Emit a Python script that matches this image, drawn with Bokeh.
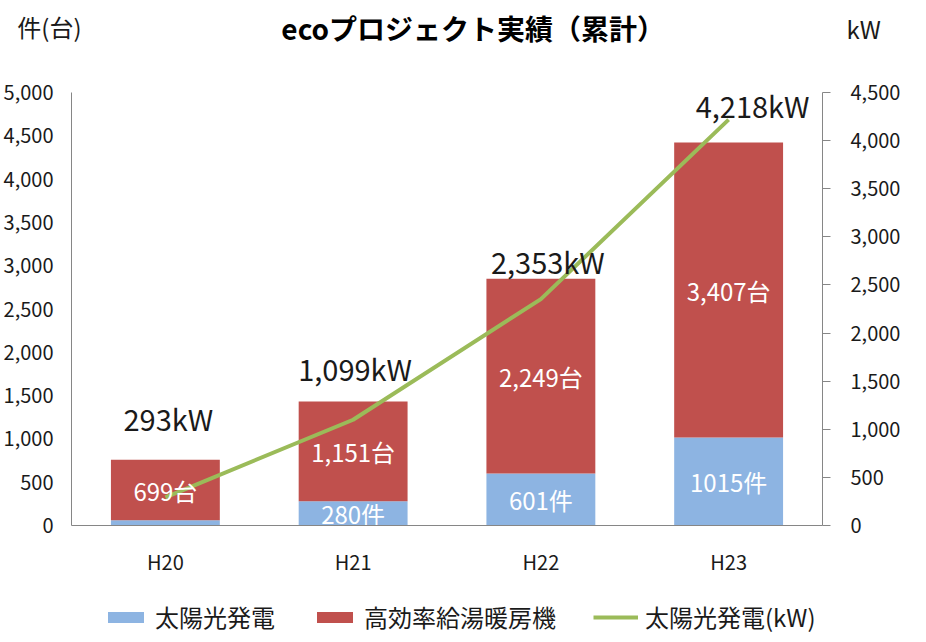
from bokeh.plotting import figure
from bokeh.layouts import column
from bokeh.models import (Range1d, LinearAxis, SingleIntervalTicker, NumeralTickFormatter,
                          FixedTicker, Legend, LegendItem, Label, ColumnDataSource,
                          FactorRange)
from bokeh.core.properties import value
from bokeh.embed import file_html
from bokeh.resources import INLINE

# ---- data ----
categories = ["H20", "H21", "H22", "H23"]
solar_count = [60, 280, 601, 1015]          # 太陽光発電 (件)
heater_count = [699, 1151, 2249, 3407]      # 高効率給湯暖房機 (台)
solar_kw = [293, 1099, 2353, 4218]          # 太陽光発電 (kW)
solar_count_labels = ["", "280件", "601件", "1015件"]
heater_count_labels = ["699台", "1,151台", "2,249台", "3,407台"]
kw_labels = ["293kW", "1,099kW", "2,353kW", "4,218kW"]
series_names = ["太陽光発電", "高効率給湯暖房機", "太陽光発電(kW)"]
left_axis_max = 5000
right_axis_max = 4500
tick_step = 500
title_text = "ecoプロジェクト実績（累計）"
left_unit = "件(台)"
right_unit = "kW"

# ---- style ----
FONT = "Noto Sans CJK JP"
BLUE = "#8DB4E2"
RED = "#C0504D"
GREEN = "#9BBB59"
AXIS = "#868686"
TXT = "#1a1a1a"
W = 910
FRAME_W = 759
HEAD_H, MAIN_H, LEG_H = 70, 515, 49
UNIT_Y_LEFT, UNIT_Y_RIGHT = 44, 42
kw_label_dx = [3, 2, 7, 24]
kw_label_dy = [-79, -52, -38, -15]


def bare(fig):
    fig.outline_line_color = None
    fig.xgrid.grid_line_color = None
    fig.ygrid.grid_line_color = None
    fig.background_fill_color = "white"
    fig.border_fill_color = "white"
    return fig


def unit_axis(ax, y, text, standoff):
    ax.ticker = FixedTicker(ticks=[y])
    ax.major_label_overrides = {y: text}
    ax.axis_line_color = None
    ax.major_tick_line_color = None
    ax.minor_tick_line_color = None
    ax.major_label_standoff = standoff
    ax.major_label_text_font = FONT
    ax.major_label_text_font_size = "24px"
    ax.major_label_text_color = TXT


# ---- header (title + unit labels) ----
head = bare(figure(width=W, height=HEAD_H, x_range=Range1d(0, FRAME_W),
                   y_range=Range1d(0, HEAD_H),
                   output_backend="svg", toolbar_location=None,
                   x_axis_type=None,
                   min_border=0, min_border_left=0, min_border_right=0,
                   min_border_top=0, min_border_bottom=0))
head.add_layout(Label(x=406, y=43, text=title_text, text_font=FONT, text_font_size="28px",
                      text_font_style="bold", text_color="black",
                      text_align="center", text_baseline="middle"))
unit_axis(head.yaxis[0], UNIT_Y_LEFT, left_unit, -16)
head_right = LinearAxis()
unit_axis(head_right, UNIT_Y_RIGHT, right_unit, 18)
head.add_layout(head_right, "right")

# ---- main chart ----
src = ColumnDataSource(dict(
    cat=categories,
    solar=solar_count,
    heater=heater_count,
    kw=solar_kw,
    solar_mid=[s / 2 for s in solar_count],
    heater_mid=[s + h / 2 for s, h in zip(solar_count, heater_count)],
    solar_lbl=solar_count_labels,
    heater_lbl=heater_count_labels,
    kw_lbl=kw_labels,
    dx=kw_label_dx,
    dy=kw_label_dy,
))

p = bare(figure(x_range=FactorRange(*categories), y_range=Range1d(0, left_axis_max),
                width=W, height=MAIN_H, output_backend="svg", toolbar_location=None,
                min_border_left=63, min_border_right=88, min_border_top=22,
                min_border_bottom=60))
p.extra_y_ranges = {"kw": Range1d(0, right_axis_max)}

bars = p.vbar_stack(["solar", "heater"], x="cat", width=0.58, color=[BLUE, RED],
                    line_color=None, source=src)
line = p.line(x="cat", y="kw", y_range_name="kw", line_color=GREEN, line_width=4,
              line_join="round", source=src)

p.text(x="cat", y="solar_mid", text="solar_lbl", source=src, text_color="white",
       text_font=value(FONT), text_font_size="24px", text_align="center",
       text_baseline="middle")
p.text(x="cat", y="heater_mid", text="heater_lbl", source=src, text_color="white",
       text_font=value(FONT), text_font_size="24px", text_align="center",
       text_baseline="middle")
p.text(x="cat", y="kw", y_range_name="kw", text="kw_lbl", source=src, text_color=TXT,
       x_offset="dx", y_offset="dy",
       text_font=value(FONT), text_font_size="29px", text_align="center",
       text_baseline="middle")

ly = p.yaxis[0]
ly.ticker = SingleIntervalTicker(interval=tick_step)
ly.formatter = NumeralTickFormatter(format="0,0")
ly.axis_line_color = AXIS
ly.major_tick_line_color = None
ly.minor_tick_line_color = None
ly.major_label_standoff = 12
ly.major_label_text_font = FONT
ly.major_label_text_font_size = "20px"
ly.major_label_text_color = TXT

ry = LinearAxis(y_range_name="kw", ticker=SingleIntervalTicker(interval=tick_step),
                formatter=NumeralTickFormatter(format="0,0"))
ry.axis_line_color = AXIS
ry.major_tick_line_color = AXIS
ry.major_tick_in = 0
ry.major_tick_out = 8
ry.minor_tick_line_color = None
ry.major_label_standoff = 20
ry.major_label_text_font = FONT
ry.major_label_text_font_size = "20px"
ry.major_label_text_color = TXT
p.add_layout(ry, "right")

xa = p.xaxis[0]
xa.axis_line_color = AXIS
xa.major_tick_line_color = None
xa.minor_tick_line_color = None
xa.major_label_standoff = 15
xa.major_label_text_font = FONT
xa.major_label_text_font_size = "20px"
xa.major_label_text_color = TXT

# ---- legend strip ----
leg = bare(figure(width=W, height=LEG_H, x_range=Range1d(0, 1), y_range=Range1d(0, 1),
                  output_backend="svg", toolbar_location=None,
                  x_axis_type=None, y_axis_type=None,
                  min_border=0, min_border_left=0, min_border_right=0,
                  min_border_top=0, min_border_bottom=0))
offscreen = ColumnDataSource(dict(x=[-5, -4], top=[-5, -4], y=[-5, -4]))
r_solar = leg.vbar(x="x", top="top", width=0.5, color=BLUE, line_color=None, source=offscreen)
r_heater = leg.vbar(x="x", top="top", width=0.5, color=RED, line_color=None, source=offscreen)
r_kw = leg.line(x="x", y="y", line_color=GREEN, line_width=4, source=offscreen)
legend = Legend(items=[LegendItem(label=series_names[0], renderers=[r_solar]),
                       LegendItem(label=series_names[1], renderers=[r_heater]),
                       LegendItem(label=series_names[2], renderers=[r_kw])],
                orientation="horizontal", location=(32, 0),
                label_text_font=FONT, label_text_font_size="24px", label_text_color=TXT,
                glyph_width=45, glyph_height=14, label_standoff=7, spacing=37,
                label_height=24, padding=0, margin=0,
                border_line_color=None, background_fill_alpha=0)
leg.add_layout(legend, "center")

layout = column(head, p, leg, spacing=0)
open("out.html", "w").write(file_html(layout, INLINE))
